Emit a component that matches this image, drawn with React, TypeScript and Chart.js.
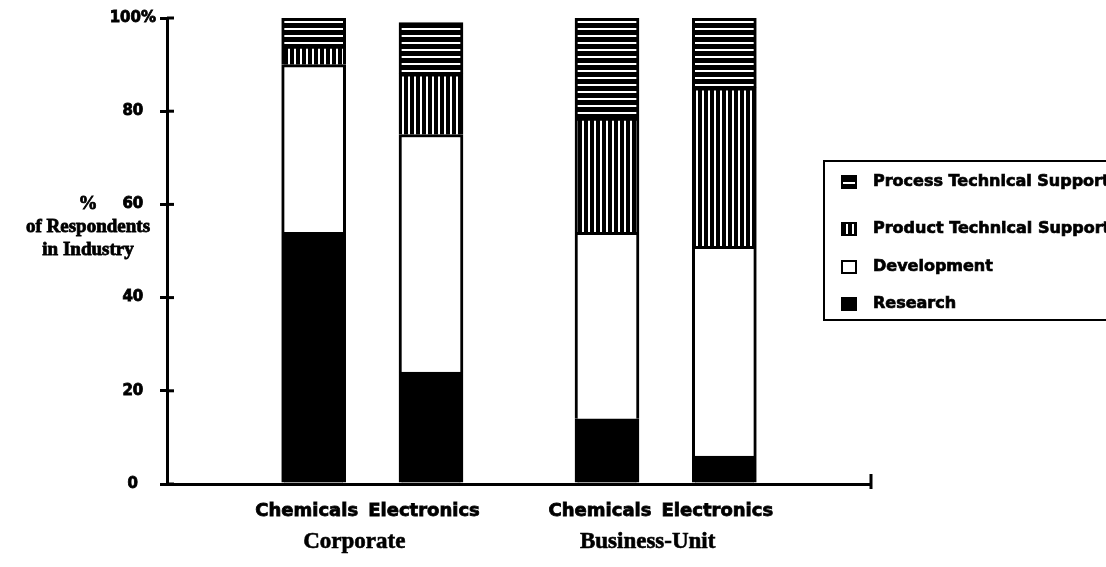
import React, { useEffect, useRef } from 'react';
import { Chart, registerables } from 'chart.js';

Chart.register(...registerables);

// ---- data ----
const industries = ['Chemicals', 'Electronics', 'Chemicals', 'Electronics'];
const groups = ['Corporate', 'Business-Unit'];
const seriesNames = ['Research', 'Development', 'Product Technical Support', 'Process Technical Support'];
const research = [54, 24, 14, 6];
const development = [36, 51, 40, 45];
const productSupport = [4, 13, 24.5, 34];
const processSupport = [6, 11, 21.5, 15];
const yTickValues = [0, 20, 40, 60, 80, 100];
const yTitleLines = ['%', 'of Respondents', 'in Industry'];

// ---- layout helpers (slot positions on the linear x scale) ----
const barSlot = (i: number) => 2.5 + 2 * (i % 2) + 5 * Math.floor(i / 2);
const groupSlot = (g: number) => 3.5 + 5 * g;

const SANS = '"DejaVu Sans", sans-serif';
const SERIF = '"Liberation Serif", serif';

function makeStripes(ctx: CanvasRenderingContext2D, vertical: boolean, period: number, white: number) {
  const c = document.createElement('canvas');
  c.width = period;
  c.height = period;
  const g = c.getContext('2d')!;
  g.fillStyle = '#000';
  g.fillRect(0, 0, period, period);
  g.fillStyle = '#fff';
  if (vertical) g.fillRect(0, 0, white, period);
  else g.fillRect(0, 0, period, white);
  return ctx.createPattern(c, 'repeat')!;
}

const yTitlePlugin = {
  id: 'yTitleFlat',
  afterDraw(chart: any) {
    const ctx = chart.ctx;
    const y = chart.scales.y;
    const base = y.getPixelForValue(60);
    ctx.save();
    ctx.fillStyle = '#000';
    ctx.strokeStyle = '#000';
    ctx.lineWidth = 0.8;
    ctx.font = `bold 19px ${SERIF}`;
    ctx.textAlign = 'center';
    ctx.textBaseline = 'middle';
    yTitleLines.forEach((t, i) => {
      ctx.fillText(t, 88, base + i * 23);
      ctx.strokeText(t, 88, base + i * 23);
    });
    ctx.restore();
  },
};

const innerTicksPlugin = {
  id: 'innerTicks',
  afterDraw(chart: any) {
    const ctx = chart.ctx;
    const y = chart.scales.y;
    const area = chart.chartArea;
    ctx.save();
    ctx.strokeStyle = '#000';
    ctx.lineWidth = 3;
    y.ticks.forEach((t: any) => {
      const py = y.getPixelForValue(t.value);
      ctx.beginPath();
      ctx.moveTo(area.left, py);
      ctx.lineTo(area.left + 7, py);
      ctx.stroke();
    });
    ctx.beginPath();
    ctx.moveTo(area.right, area.bottom - 10);
    ctx.lineTo(area.right, area.bottom + 5);
    ctx.stroke();
    ctx.restore();
  },
};

const boxLegendPlugin = {
  id: 'boxLegend',
  afterDraw(chart: any) {
    const ctx = chart.ctx;
    const area = chart.chartArea;
    const left = area.right - 47;
    const rows = [182, 229, 267, 304];
    ctx.save();
    ctx.strokeStyle = '#000';
    ctx.lineWidth = 2;
    ctx.strokeRect(left, 161, 400, 159);
    const ds = chart.data.datasets.slice().reverse();
    ds.forEach((d: any, i: number) => {
      const cy = rows[i];
      ctx.fillStyle = d.backgroundColor;
      ctx.fillRect(left + 18, cy - 6, 14, 12);
      ctx.lineWidth = 2;
      ctx.strokeRect(left + 18, cy - 6, 14, 12);
      ctx.fillStyle = '#000';
      ctx.lineWidth = 0.7;
      ctx.font = `bold 16px ${SANS}`;
      ctx.textAlign = 'left';
      ctx.textBaseline = 'middle';
      ctx.fillText(d.label, left + 49, cy);
      ctx.strokeText(d.label, left + 49, cy);
    });
    ctx.restore();
  },
};

export default function App() {
  const ref = useRef<HTMLCanvasElement>(null);

  useEffect(() => {
    const canvas = ref.current!;
    const ctx = canvas.getContext('2d')!;
    const vStripes = makeStripes(ctx, true, 6, 2);
    const hStripes = makeStripes(ctx, false, 7, 2);
    const fills = ['#000', '#fff', vStripes, hStripes];
    const values = [research, development, productSupport, processSupport];

    const datasets = values.map((vals, s) => ({
      label: seriesNames[s],
      data: vals.map((v, i) => ({ x: barSlot(i), y: v })),
      backgroundColor: fills[s] as any,
      borderColor: '#000',
      borderWidth: 3,
      borderSkipped: 'start' as const,
      barThickness: 64,
      xAxisID: 'x',
      yAxisID: 'y',
    }));

    const chart = new Chart(canvas, {
      type: 'bar',
      data: { datasets },
      options: {
        responsive: false,
        animation: false,
        layout: { padding: { top: 18, right: 235, left: 0, bottom: 0 } },
        plugins: { legend: { display: false }, tooltip: { enabled: false } },
        scales: {
          x: {
            type: 'linear',
            position: 'bottom',
            stacked: true,
            min: 0,
            max: 12,
            offset: false,
            afterBuildTicks: (s: any) => {
              s.ticks = industries.map((_, i) => ({ value: barSlot(i) }));
            },
            afterFit: (s: any) => {
              s.height = 40;
            },
            grid: { display: false, drawTicks: false },
            border: { display: true, color: '#000', width: 3 },
            ticks: {
              autoSkip: false,
              maxRotation: 0,
              padding: 17,
              labelOffset: -7,
              color: '#000',
              textStrokeColor: '#000',
              textStrokeWidth: 0.8,
              font: { family: SANS, weight: 'bold', size: 18 },
              callback: (_v: any, i: number) => industries[i],
            },
          },
          x2: {
            type: 'linear',
            position: 'bottom',
            min: 0,
            max: 12,
            offset: false,
            afterBuildTicks: (s: any) => {
              s.ticks = groups.map((_, g) => ({ value: groupSlot(g) }));
            },
            afterFit: (s: any) => {
              s.height = 43;
            },
            grid: { display: false, drawTicks: false },
            border: { display: false },
            ticks: {
              autoSkip: false,
              maxRotation: 0,
              padding: 4,
              labelOffset: -18,
              color: '#000',
              textStrokeColor: '#000',
              textStrokeWidth: 0.6,
              font: { family: SERIF, weight: 'bold', size: 23 },
              callback: (_v: any, i: number) => groups[i],
            },
          },
          y: {
            stacked: true,
            min: 0,
            max: 100,
            afterBuildTicks: (s: any) => {
              s.ticks = yTickValues.map((v) => ({ value: v }));
            },
            afterFit: (s: any) => {
              s.width = 167;
            },
            grid: { display: true, drawOnChartArea: false, drawTicks: true, tickLength: 7, color: '#000', lineWidth: 3 },
            border: { display: true, color: '#000', width: 3 },
            ticks: {
              crossAlign: 'center',
              padding: 4,
              color: '#000',
              textStrokeColor: '#000',
              textStrokeWidth: 0.8,
              font: { family: SANS, weight: 'bold', size: 15 },
              callback: (v: any) => (v === 100 ? '100%' : String(v)),
            },
          },
        },
      },
      plugins: [yTitlePlugin, innerTicksPlugin, boxLegendPlugin],
    });
    return () => chart.destroy();
  }, []);

  return (
    <div style={{ position: 'absolute', left: 0, top: 0, width: 1106, height: 567, background: '#fff' }}>
      <canvas ref={ref} width={1106} height={567} style={{ display: 'block' }} />
    </div>
  );
}
